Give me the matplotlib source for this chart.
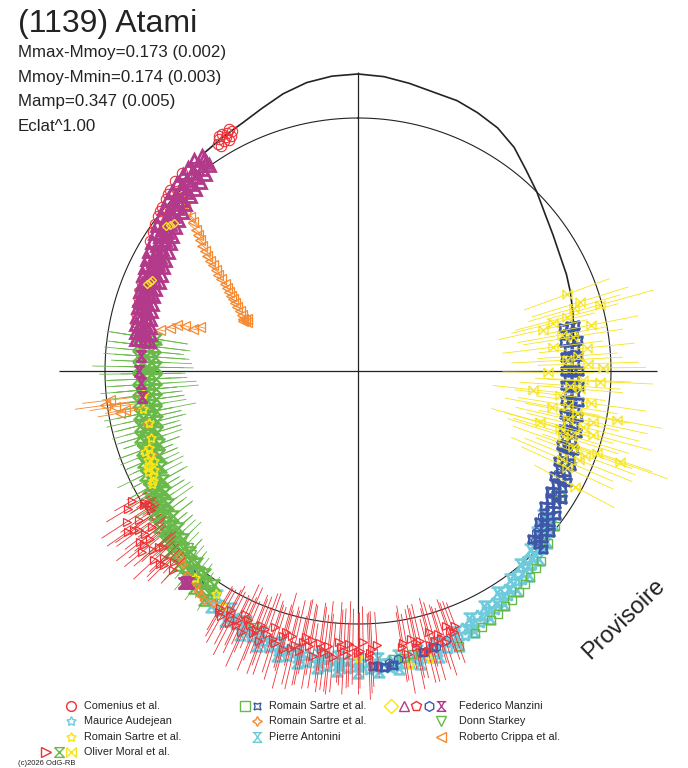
import numpy as np
import matplotlib
matplotlib.use("Agg")
from matplotlib import pyplot as plt
from matplotlib.path import Path
from matplotlib.collections import LineCollection

plt.rcParams['font.family'] = ['Liberation Sans', 'DejaVu Sans']

# colours of the observers
RED = '#ee3237'
CYAN = '#6dcbdc'
YELLOW = '#f7e51b'
GREEN = '#69b94a'
BLUE = '#3e57a7'
ORANGE = '#f58a32'
MAGENTA = '#b3398b'
INK = '#232323'

# ---- data: (phase, magnitude offset) or (phase, magnitude offset, error) ----
# the radius is 1 + offset, the thin circle is offset 0

model_curve = [(0.903, 0.055), (0.917, 0.068), (0.931, 0.082), (0.944, 0.105), (0.958, 0.135),
               (0.972, 0.158), (0.986, 0.170), (0.000, 0.174), (0.014, 0.168), (0.028, 0.155),
               (0.042, 0.142), (0.056, 0.138), (0.069, 0.125), (0.083, 0.108), (0.097, 0.078),
               (0.111, 0.035), (0.125, 0.000), (0.139, -0.035), (0.153, -0.060), (0.167, -0.080),
               (0.181, -0.092), (0.194, -0.105), (0.208, -0.120), (0.222, -0.135), (0.236, -0.148),
               (0.250, -0.154), (0.264, -0.152), (0.278, -0.145), (0.292, -0.132), (0.306, -0.117)]

comenius = [(0.918, 0.062), (0.920, 0.075), (0.916, 0.050), (0.914, 0.068), (0.921, 0.058),
            (0.917, 0.082), (0.912, 0.055), (0.919, 0.045), (0.923, 0.070), (0.915, 0.078),
            (0.913, 0.042), (0.922, 0.085), (0.884, 0.047), (0.878, 0.040), (0.872, 0.031),
            (0.866, 0.020), (0.861, 0.010), (0.855, 0.000), (0.850, -0.010), (0.845, -0.021),
            (0.839, -0.031), (0.869, 0.026), (0.858, 0.005)]

manzini_triangle = [
    (0.900, 0.050), (0.900, 0.035), (0.900, 0.020), (0.900, 0.005),
    (0.895, 0.056), (0.895, 0.032), (0.895, 0.008), (0.895, -0.016),
    (0.889, 0.046), (0.889, 0.022), (0.889, -0.002), (0.889, -0.026),
    (0.884, 0.038), (0.884, 0.014), (0.884, -0.010), (0.884, -0.034),
    (0.878, 0.030), (0.878, 0.006), (0.878, -0.018), (0.878, -0.042),
    (0.872, 0.021), (0.872, -0.003), (0.872, -0.027), (0.872, -0.051),
    (0.867, 0.011), (0.867, -0.013), (0.867, -0.037), (0.867, -0.061),
    (0.861, 0.001), (0.861, -0.023), (0.861, -0.047), (0.861, -0.071),
    (0.856, -0.009), (0.856, -0.033), (0.856, -0.057), (0.856, -0.081),
    (0.850, -0.019), (0.850, -0.043), (0.850, -0.067), (0.850, -0.091),
    (0.845, -0.030), (0.845, -0.054), (0.845, -0.078), (0.845, -0.102),
    (0.839, -0.040), (0.839, -0.064), (0.839, -0.088), (0.839, -0.112),
    (0.833, -0.049), (0.833, -0.073), (0.833, -0.097), (0.833, -0.121),
    (0.828, -0.056), (0.828, -0.080), (0.828, -0.104), (0.828, -0.128),
    (0.822, -0.062), (0.822, -0.086), (0.822, -0.110), (0.822, -0.134),
    (0.817, -0.067), (0.817, -0.091), (0.817, -0.115), (0.817, -0.139),
    (0.811, -0.079), (0.811, -0.097), (0.811, -0.115), (0.811, -0.133),
    (0.806, -0.083), (0.806, -0.101), (0.806, -0.119), (0.806, -0.137),
    (0.800, -0.088), (0.800, -0.106), (0.800, -0.124), (0.800, -0.142),
    (0.795, -0.093), (0.795, -0.111), (0.795, -0.129), (0.795, -0.147),
    (0.789, -0.099), (0.789, -0.117), (0.789, -0.135), (0.789, -0.153),
    (0.783, -0.104), (0.783, -0.122), (0.783, -0.140), (0.783, -0.158),
    (0.778, -0.109), (0.778, -0.127), (0.778, -0.145), (0.778, -0.163),
    (0.773, -0.113), (0.773, -0.131), (0.773, -0.149), (0.773, -0.167)]
manzini_tripod = [(0.609, 0.075), (0.610, 0.085), (0.607, 0.070), (0.761, -0.140),
                  (0.750, -0.135), (0.741, -0.140), (0.731, -0.140), (0.892, 0.030),
                  (0.881, 0.010), (0.869, -0.020), (0.858, -0.040), (0.847, -0.060),
                  (0.836, -0.080), (0.825, -0.095), (0.814, -0.110), (0.803, -0.118),
                  (0.792, -0.130), (0.781, -0.140)]
manzini_pentagon = [(0.828, -0.057), (0.822, -0.063), (0.817, -0.068), (0.811, -0.071),
                    (0.806, -0.075), (0.800, -0.080), (0.795, -0.085), (0.789, -0.091),
                    (0.783, -0.096)]
manzini_diamond = [(0.855, -0.060), (0.853, -0.050), (0.858, -0.068), (0.814, -0.105),
                   (0.812, -0.098), (0.816, -0.112)]
manzini_hexagon = [(0.356, -0.075), (0.339, -0.095), (0.300, -0.140), (0.372, -0.030),
                   (0.325, -0.115), (0.311, -0.125), (0.367, -0.050), (0.450, 0.120),
                   (0.456, 0.135), (0.483, 0.160), (0.478, 0.150), (0.489, 0.170)]

sartre_blue = [
    (0.217, -0.170), (0.217, -0.145), (0.217, -0.122), (0.222, -0.162), (0.222, -0.134),
    (0.228, -0.178), (0.228, -0.150), (0.228, -0.124), (0.233, -0.166), (0.233, -0.138),
    (0.239, -0.180), (0.239, -0.153), (0.239, -0.127), (0.244, -0.168), (0.244, -0.140),
    (0.250, -0.183), (0.250, -0.155), (0.250, -0.128), (0.256, -0.168), (0.256, -0.140),
    (0.261, -0.180), (0.261, -0.153), (0.261, -0.126), (0.267, -0.165), (0.267, -0.137),
    (0.272, -0.175), (0.272, -0.148), (0.272, -0.120), (0.278, -0.158), (0.278, -0.130),
    (0.283, -0.168), (0.283, -0.140), (0.283, -0.112), (0.289, -0.149), (0.289, -0.121),
    (0.294, -0.158), (0.294, -0.130), (0.294, -0.102), (0.300, -0.138), (0.300, -0.110),
    (0.306, -0.146), (0.306, -0.118), (0.306, -0.090), (0.311, -0.125), (0.311, -0.097),
    (0.317, -0.133), (0.317, -0.105), (0.317, -0.077), (0.322, -0.112), (0.322, -0.084),
    (0.328, -0.120), (0.328, -0.092), (0.328, -0.064), (0.333, -0.099), (0.333, -0.071),
    (0.339, -0.106), (0.339, -0.078), (0.339, -0.050), (0.344, -0.084), (0.344, -0.056),
    (0.350, -0.090), (0.350, -0.062), (0.350, -0.034), (0.356, -0.065), (0.356, -0.037),
    (0.361, -0.068), (0.361, -0.040), (0.361, -0.012), (0.367, -0.042), (0.367, -0.014),
    (0.372, -0.043), (0.372, -0.015), (0.372, 0.013),
    (0.458, 0.130), (0.464, 0.140), (0.486, 0.175), (0.492, 0.168), (0.481, 0.172),
    (0.603, 0.045), (0.611, 0.030), (0.636, -0.010)]
sartre_green = [(0.356, -0.010), (0.367, 0.015), (0.378, 0.040), (0.389, 0.060), (0.400, 0.080),
                (0.411, 0.097), (0.422, 0.117), (0.433, 0.135), (0.444, 0.160), (0.383, 0.050),
                (0.394, 0.070), (0.406, 0.090), (0.417, 0.107), (0.428, 0.125), (0.306, -0.095),
                (0.339, -0.060), (0.317, -0.080), (0.475, 0.150), (0.481, 0.145), (0.470, 0.140)]
sartre_orange = [(0.606, 0.070), (0.603, 0.060), (0.600, 0.075), (0.611, 0.050), (0.597, 0.085),
                 (0.594, 0.090), (0.617, 0.030), (0.622, 0.015), (0.689, -0.120), (0.711, -0.140),
                 (0.733, -0.150), (0.589, 0.080)]
sartre_yellow = [(0.694, -0.120), (0.689, -0.112), (0.686, -0.100), (0.683, -0.095), (0.681, -0.085),
                 (0.678, -0.105), (0.675, -0.090), (0.672, -0.080), (0.692, -0.100), (0.684, -0.118),
                 (0.679, -0.078), (0.670, -0.072), (0.700, -0.140), (0.711, -0.150), (0.722, -0.135),
                 (0.733, -0.145), (0.500, 0.135), (0.461, 0.175), (0.472, 0.180), (0.606, 0.040),
                 (0.583, 0.070), (0.590, 0.045)]

antonini = [
    (0.356, -0.070), (0.356, -0.045), (0.356, -0.020), (0.367, -0.045), (0.367, -0.020), (0.367, 0.005),
    (0.378, -0.020), (0.378, 0.005), (0.378, 0.030), (0.389, 0.000), (0.389, 0.025), (0.389, 0.050),
    (0.400, 0.020), (0.400, 0.045), (0.400, 0.070), (0.411, 0.037), (0.411, 0.062), (0.411, 0.087),
    (0.422, 0.057), (0.422, 0.082), (0.422, 0.107), (0.433, 0.075), (0.433, 0.100), (0.433, 0.125),
    (0.444, 0.103), (0.444, 0.128), (0.444, 0.153), (0.456, 0.121), (0.456, 0.146), (0.456, 0.171),
    (0.467, 0.131), (0.467, 0.156), (0.467, 0.181), (0.478, 0.137), (0.478, 0.162), (0.478, 0.187),
    (0.489, 0.140), (0.489, 0.165), (0.489, 0.190), (0.500, 0.138), (0.500, 0.163), (0.500, 0.188),
    (0.511, 0.135), (0.511, 0.160), (0.511, 0.185), (0.522, 0.132), (0.522, 0.157), (0.522, 0.182),
    (0.533, 0.127), (0.533, 0.152), (0.533, 0.177), (0.544, 0.117), (0.544, 0.142), (0.544, 0.167),
    (0.556, 0.105), (0.556, 0.130), (0.556, 0.155), (0.567, 0.087), (0.567, 0.112), (0.567, 0.137),
    (0.578, 0.065), (0.578, 0.090), (0.578, 0.115), (0.589, 0.047), (0.589, 0.072), (0.589, 0.097)]
audejean = [
    (0.361, -0.045), (0.361, -0.020), (0.372, -0.020), (0.372, 0.005), (0.383, 0.002), (0.383, 0.027),
    (0.394, 0.022), (0.394, 0.047), (0.406, 0.041), (0.406, 0.066), (0.417, 0.060), (0.417, 0.085),
    (0.428, 0.078), (0.428, 0.103), (0.439, 0.101), (0.439, 0.126), (0.450, 0.125), (0.450, 0.150),
    (0.461, 0.139), (0.461, 0.164), (0.472, 0.147), (0.472, 0.172), (0.483, 0.151), (0.483, 0.176),
    (0.494, 0.152), (0.494, 0.177), (0.506, 0.149), (0.506, 0.174), (0.517, 0.146), (0.517, 0.171),
    (0.528, 0.142), (0.528, 0.167), (0.539, 0.135), (0.539, 0.160), (0.550, 0.124), (0.550, 0.149),
    (0.561, 0.109), (0.561, 0.134), (0.572, 0.089), (0.572, 0.114), (0.583, 0.069), (0.583, 0.094)]

starkey = [(0.600, 0.025), (0.606, 0.010), (0.611, -0.005), (0.617, -0.018), (0.594, 0.040),
           (0.589, 0.055), (0.622, -0.030), (0.628, -0.042), (0.567, 0.085), (0.561, 0.095)]

crippa = [
    (0.872, -0.025, 0.05), (0.874, -0.010, 0.04), (0.869, -0.070, 0.05), (0.871, -0.055, 0.04),
    (0.867, -0.120, 0.04), (0.868, -0.100, 0.05), (0.8625, -0.170, 0.03), (0.864, -0.150, 0.04),
    (0.858, -0.210, 0.03), (0.860, -0.190, 0.03), (0.854, -0.250, 0.03), (0.856, -0.232, 0.03),
    (0.850, -0.290, 0.02), (0.852, -0.270, 0.03), (0.846, -0.330, 0.02), (0.848, -0.312, 0.02),
    (0.842, -0.370, 0.02), (0.844, -0.350, 0.02), (0.8375, -0.400, 0.02), (0.840, -0.385, 0.02),
    (0.833, -0.430, 0.02), (0.835, -0.415, 0.02), (0.828, -0.460, 0.02), (0.830, -0.445, 0.02),
    (0.822, -0.490, 0.02), (0.825, -0.475, 0.02), (0.817, -0.510, 0.02), (0.818, -0.500, 0.02),
    (0.816, -0.520, 0.02), (0.820, -0.515, 0.02), (0.815, -0.505, 0.02),
    (0.786, -0.238, 0.02), (0.7906, -0.293, 0.02), (0.7933, -0.352, 0.02), (0.7825, -0.201, 0.02),
    (0.7897, -0.261, 0.02), (0.7897, -0.328, 0.02),
    (0.7267, -0.028, 0.10), (0.7286, 0.009, 0.12), (0.7236, -0.066, 0.08), (0.7314, -0.013, 0.11),
    (0.7222, -0.045, 0.09)]

moral_green = [
    (0.775, -0.190, 0.13), (0.775, -0.155, 0.16), (0.775, -0.120, 0.11),
    (0.769, -0.193, 0.14), (0.769, -0.158, 0.16), (0.769, -0.123, 0.10),
    (0.765, -0.178, 0.13), (0.765, -0.143, 0.15),
    (0.761, -0.197, 0.12), (0.761, -0.162, 0.17), (0.761, -0.127, 0.09),
    (0.757, -0.183, 0.16), (0.757, -0.147, 0.11),
    (0.753, -0.200, 0.15), (0.753, -0.165, 0.11), (0.753, -0.130, 0.18),
    (0.748, -0.182, 0.12), (0.748, -0.148, 0.17),
    (0.744, -0.200, 0.10), (0.744, -0.165, 0.16), (0.744, -0.130, 0.13),
    (0.740, -0.181, 0.18), (0.740, -0.146, 0.12),
    (0.736, -0.198, 0.17), (0.736, -0.163, 0.12), (0.736, -0.128, 0.15),
    (0.732, -0.178, 0.11), (0.732, -0.142, 0.16),
    (0.728, -0.193, 0.11), (0.728, -0.158, 0.15), (0.728, -0.123, 0.12),
    (0.724, -0.172, 0.14), (0.724, -0.137, 0.10),
    (0.719, -0.187, 0.16), (0.719, -0.152, 0.10), (0.719, -0.117, 0.14),
    (0.715, -0.166, 0.12), (0.715, -0.131, 0.15),
    (0.711, -0.180, 0.12), (0.711, -0.145, 0.14), (0.711, -0.110, 0.09),
    (0.707, -0.158, 0.11), (0.707, -0.122, 0.13),
    (0.703, -0.171, 0.10), (0.703, -0.136, 0.13), (0.703, -0.101, 0.08),
    (0.699, -0.148, 0.12), (0.699, -0.112, 0.09),
    (0.694, -0.160, 0.09), (0.694, -0.125, 0.12), (0.694, -0.090, 0.10),
    (0.690, -0.136, 0.08), (0.690, -0.100, 0.11),
    (0.686, -0.147, 0.08), (0.686, -0.112, 0.11), (0.686, -0.077, 0.07),
    (0.682, -0.123, 0.10), (0.682, -0.087, 0.09),
    (0.678, -0.133, 0.10), (0.678, -0.098, 0.09), (0.678, -0.063, 0.12),
    (0.674, -0.108, 0.11), (0.674, -0.072, 0.08),
    (0.669, -0.118, 0.11), (0.669, -0.083, 0.13), (0.669, -0.048, 0.08),
    (0.665, -0.092, 0.09), (0.665, -0.056, 0.12),
    (0.661, -0.101, 0.09), (0.661, -0.066, 0.12), (0.661, -0.031, 0.10),
    (0.657, -0.076, 0.13), (0.657, -0.040, 0.09),
    (0.653, -0.085, 0.12), (0.653, -0.050, 0.08), (0.653, -0.015, 0.11),
    (0.649, -0.060, 0.10), (0.649, -0.025, 0.12),
    (0.644, -0.070, 0.10), (0.644, -0.035, 0.13), (0.644, 0.000, 0.09),
    (0.640, -0.045, 0.08), (0.640, -0.010, 0.11),
    (0.636, -0.055, 0.08), (0.636, -0.020, 0.11), (0.636, 0.015, 0.12),
    (0.632, -0.030, 0.10), (0.632, 0.005, 0.08),
    (0.628, -0.040, 0.10), (0.628, -0.005, 0.09), (0.628, 0.030, 0.07),
    (0.624, -0.015, 0.09), (0.624, 0.020, 0.07),
    (0.619, -0.025, 0.07), (0.619, 0.010, 0.10), (0.619, 0.045, 0.08),
    (0.615, 0.000, 0.08), (0.615, 0.035, 0.06),
    (0.611, -0.010, 0.06), (0.611, 0.025, 0.08), (0.611, 0.060, 0.07),
    (0.607, 0.015, 0.07), (0.607, 0.050, 0.05),
    (0.603, 0.005, 0.05), (0.603, 0.040, 0.07), (0.603, 0.075, 0.06),
    (0.599, 0.030, 0.05), (0.599, 0.065, 0.04),
    (0.594, 0.020, 0.04), (0.594, 0.055, 0.06), (0.594, 0.090, 0.05)]

moral_red = [
    (0.667, 0.030, 0.08), (0.664, 0.060, 0.10), (0.661, 0.000, 0.06), (0.658, 0.090, 0.12),
    (0.655, 0.045, 0.09), (0.653, 0.110, 0.10), (0.650, 0.070, 0.11), (0.647, 0.020, 0.07),
    (0.644, 0.095, 0.12), (0.642, 0.055, 0.08), (0.639, 0.115, 0.09), (0.636, 0.075, 0.10),
    (0.633, 0.040, 0.07), (0.631, 0.100, 0.11), (0.628, 0.065, 0.08), (0.625, 0.085, 0.09),
    (0.622, 0.050, 0.06), (0.619, 0.075, 0.07), (0.660, -0.020, 0.03), (0.658, -0.025, 0.03),
    (0.656, -0.015, 0.04), (0.662, -0.010, 0.04), (0.652, 0.085, 0.09), (0.646, 0.060, 0.10),
    (0.641, 0.090, 0.08), (0.635, 0.050, 0.09), (0.627, 0.095, 0.07),
    (0.584, 0.085, 0.10), (0.581, 0.110, 0.12), (0.578, 0.070, 0.09), (0.575, 0.120, 0.14),
    (0.572, 0.095, 0.11), (0.569, 0.060, 0.13), (0.567, 0.130, 0.15), (0.564, 0.090, 0.10),
    (0.561, 0.115, 0.16), (0.558, 0.075, 0.12), (0.556, 0.135, 0.14), (0.553, 0.100, 0.17),
    (0.550, 0.065, 0.11), (0.547, 0.125, 0.15), (0.544, 0.090, 0.13), (0.542, 0.140, 0.16),
    (0.539, 0.080, 0.12), (0.536, 0.110, 0.18), (0.533, 0.130, 0.14), (0.531, 0.070, 0.15),
    (0.528, 0.105, 0.17), (0.525, 0.140, 0.13), (0.522, 0.085, 0.16), (0.519, 0.120, 0.15),
    (0.517, 0.095, 0.18), (0.514, 0.135, 0.14), (0.511, 0.075, 0.16), (0.508, 0.110, 0.17),
    (0.506, 0.125, 0.13), (0.503, 0.090, 0.15), (0.500, 0.115, 0.16), (0.497, 0.070, 0.14),
    (0.494, 0.130, 0.17), (0.492, 0.100, 0.15), (0.489, 0.085, 0.13),
    (0.583, 0.100, 0.11), (0.577, 0.090, 0.13), (0.571, 0.115, 0.12), (0.566, 0.075, 0.14),
    (0.560, 0.100, 0.13), (0.555, 0.085, 0.15), (0.549, 0.110, 0.14), (0.543, 0.070, 0.16),
    (0.538, 0.125, 0.15), (0.532, 0.095, 0.17), (0.527, 0.080, 0.14), (0.521, 0.110, 0.17),
    (0.516, 0.125, 0.16), (0.510, 0.095, 0.15), (0.505, 0.080, 0.17), (0.499, 0.105, 0.15),
    (0.493, 0.115, 0.16),
    (0.475, 0.105, 0.14), (0.472, 0.135, 0.16), (0.469, 0.080, 0.12), (0.467, 0.115, 0.17),
    (0.464, 0.095, 0.15), (0.461, 0.140, 0.13), (0.458, 0.070, 0.14), (0.456, 0.110, 0.16),
    (0.453, 0.085, 0.12), (0.450, 0.125, 0.14), (0.447, 0.065, 0.11), (0.444, 0.100, 0.13),
    (0.442, 0.080, 0.10), (0.474, 0.090, 0.15), (0.466, 0.100, 0.14), (0.459, 0.120, 0.15),
    (0.452, 0.105, 0.13), (0.446, 0.090, 0.12)]

moral_yellow = [
    (0.202, -0.081, 0.20), (0.2075, -0.008, 0.22), (0.215, -0.251, 0.18), (0.2306, -0.224, 0.20),
    (0.234, -0.091, 0.19), (0.248, -0.032, 0.17), (0.251, -0.249, 0.18), (0.267, -0.304, 0.16),
    (0.257, -0.043, 0.21), (0.279, -0.220, 0.19), (0.2936, -0.253, 0.20), (0.2797, 0.042, 0.18),
    (0.294, -0.170, 0.22), (0.292, -0.037, 0.24), (0.3025, 0.000, 0.23), (0.3033, 0.096, 0.20),
    (0.3044, -0.100, 0.25), (0.2097, -0.147, 0.21), (0.2117, -0.206, 0.17), (0.225, -0.140, 0.20),
    (0.2417, -0.173, 0.22), (0.2564, -0.110, 0.19), (0.2689, -0.196, 0.18), (0.2803, -0.119, 0.21),
    (0.2889, -0.083, 0.23), (0.194, -0.120, 0.18), (0.219, -0.060, 0.19), (0.239, -0.130, 0.16),
    (0.261, -0.160, 0.20), (0.272, -0.070, 0.22), (0.286, -0.150, 0.21), (0.297, -0.120, 0.24),
    (0.311, -0.060, 0.23), (0.319, -0.090, 0.20), (0.328, -0.030, 0.18), (0.205, -0.110, 0.19),
    (0.222, -0.180, 0.18), (0.245, -0.090, 0.20), (0.263, -0.120, 0.17), (0.276, -0.160, 0.20),
    (0.284, -0.050, 0.22), (0.299, -0.150, 0.23), (0.307, -0.040, 0.21), (0.315, -0.120, 0.22)]

title = '(1139) Atami'
stats = ['Mmax-Mmoy=0.173 (0.002)', 'Mmoy-Mmin=0.174 (0.003)', 'Mamp=0.347 (0.005)', 'Eclat^1.00']

# ---- marker shapes ----
STAR5 = (5, 1, 0)
STAR4 = (4, 1, 0)
STAR4X = (4, 1, 45)
HOURGLASS = Path([(-1, 1), (1, 1), (-1, -1), (1, -1), (-1, 1)])
BOWTIE = Path([(-1, 1), (1, -1), (1, 1), (-1, -1), (-1, 1)])
TRIPOD = Path([(-1, 1), (1, 1), (-0.6, 1), (0, 0), (0.6, 1), (0, 0), (-0.8, -1), (0, 0), (0.8, -1),
               (-1, -1), (1, -1)],
              [Path.MOVETO, Path.LINETO, Path.MOVETO, Path.LINETO, Path.LINETO, Path.MOVETO,
               Path.LINETO, Path.MOVETO, Path.LINETO, Path.MOVETO, Path.LINETO])

# ---- figure: 1 unit of radius = 253 px, pole at (358, 371) px ----
W, H = 688, 768
CX, CY, SCALE = 358, 371, 253
AX_R = 1.18

fig = plt.figure(figsize=(W / 100, H / 100), dpi=100)
ax = fig.add_axes([0, 0, 1, 1])
ax.set_xlim(-CX / SCALE, (W - CX) / SCALE)
ax.set_ylim(-(H - CY) / SCALE, CY / SCALE)
ax.axis('off')


def polar_xy(phase, dmag):
    th = np.radians(np.asarray(phase) * 360.0)
    r = 1.0 + np.asarray(dmag)
    return r * np.sin(th), r * np.cos(th)


def draw(points, marker, color, ms=6, mew=0.8, z=3):
    pts = np.array(points, dtype=float)
    x, y = polar_xy(pts[:, 0], pts[:, 1])
    if pts.shape[1] == 3:
        x0, y0 = polar_xy(pts[:, 0], pts[:, 1] - pts[:, 2])
        x1, y1 = polar_xy(pts[:, 0], pts[:, 1] + pts[:, 2])
        segs = np.stack([np.column_stack([x0, y0]), np.column_stack([x1, y1])], axis=1)
        ax.add_collection(LineCollection(segs, colors=color, linewidths=0.6, zorder=z))
    ax.plot(x, y, ls='none', marker=marker, ms=ms, mfc='none', mec=color, mew=mew, zorder=z)


# reference circle and axes
t = np.linspace(0, 2 * np.pi, 721)
ax.plot(np.sin(t), np.cos(t), color=INK, lw=0.8, zorder=2)
ax.hlines(0, -AX_R, AX_R, color=INK, lw=0.9, zorder=2)
ax.vlines(0, -AX_R, AX_R, color=INK, lw=0.9, zorder=2)

mx, my = polar_xy([p for p, m in model_curve], [m for p, m in model_curve])
ax.plot(mx, my, color=INK, lw=1.2, zorder=2.5)

# observers
draw(antonini, TRIPOD, CYAN, ms=8.5, mew=1.8, z=3)
draw(audejean, STAR5, CYAN, ms=9, mew=1.8, z=3)
draw(sartre_green, 's', GREEN, ms=6, mew=1.0, z=3.1)
draw(sartre_blue, STAR4X, BLUE, ms=8.5, mew=1.9, z=3.2)
draw(manzini_hexagon, 'h', BLUE, ms=6.5, z=3.2)
draw(moral_green, HOURGLASS, GREEN, ms=7.5, mew=1.6, z=3.3)
draw(starkey, 'v', GREEN, ms=6.5, mew=1.0, z=3.3)
draw(sartre_orange, STAR4, ORANGE, ms=6.5, mew=1.0, z=3.4)
draw(sartre_yellow, STAR5, YELLOW, ms=7, mew=1.2, z=3.5)
draw(crippa, '<', ORANGE, ms=7.5, mew=0.9, z=3.6)
draw(comenius, 'o', RED, ms=7.5, z=3.6)
draw(manzini_pentagon, 'p', RED, ms=5.5, z=3.6)
draw(manzini_triangle, '^', MAGENTA, ms=8.5, mew=2.0, z=3.7)
draw(manzini_tripod, TRIPOD, MAGENTA, ms=7.5, mew=1.8, z=3.7)
draw(manzini_diamond, 'D', YELLOW, ms=4, mew=1.0, z=3.8)
draw(moral_red, '>', RED, ms=5.5, mew=0.9, z=4)
draw(moral_yellow, BOWTIE, YELLOW, ms=6.5, mew=0.9, z=4)

# ---- texts and legend, in pixel coordinates ----
lg = fig.add_axes([0, 0, 1, 1])
lg.set_xlim(0, W)
lg.set_ylim(H, 0)
lg.axis('off')

lg.text(18, 32, title, fontsize=23, color=INK, va='baseline')
for i, s in enumerate(stats):
    lg.text(18, 57 + i * 24.6, s, fontsize=12.2, color=INK, va='baseline')

lg.text(624, 619, 'Provisoire', fontsize=17, rotation=44, color=INK, ha='center', va='center')
lg.text(18, 765, '(c)2026 OdG-RB', fontsize=5.5, color=INK, va='baseline')

legend_items = [
    (0, 0, 'Comenius et al.', [('o', RED)]),
    (0, 1, 'Maurice Audejean', [(STAR5, CYAN)]),
    (0, 2, 'Romain Sartre et al.', [(STAR5, YELLOW)]),
    (0, 3, 'Oliver Moral et al.', [('>', RED), (HOURGLASS, GREEN), (BOWTIE, YELLOW)]),
    (1, 0, 'Romain Sartre et al.', [('s', GREEN), (STAR4X, BLUE)]),
    (1, 1, 'Romain Sartre et al.', [(STAR4, ORANGE)]),
    (1, 2, 'Pierre Antonini', [(TRIPOD, CYAN)]),
    (2, 0, 'Federico Manzini', [('D', YELLOW), ('^', MAGENTA), ('p', RED), ('h', BLUE), (TRIPOD, MAGENTA)]),
    (2, 1, 'Donn Starkey', [('v', GREEN)]),
    (2, 2, 'Roberto Crippa et al.', [('<', ORANGE)]),
]
col_text_x = [84, 269, 459]
col_mark_x = [71, 257, 441]
row_y = [706, 721, 737, 752]

for col, row, label, marks in legend_items:
    y = row_y[row]
    n = len(marks)
    for i, (mk, c) in enumerate(marks):
        lg.plot(col_mark_x[col] - (n - 1 - i) * 12.5, y, marker=mk, ms=7, mfc='none', mec=c, mew=1.0)
    lg.text(col_text_x[col], y, label, fontsize=7.8, color=INK, va='center')

fig.savefig('out.png', dpi=100)
